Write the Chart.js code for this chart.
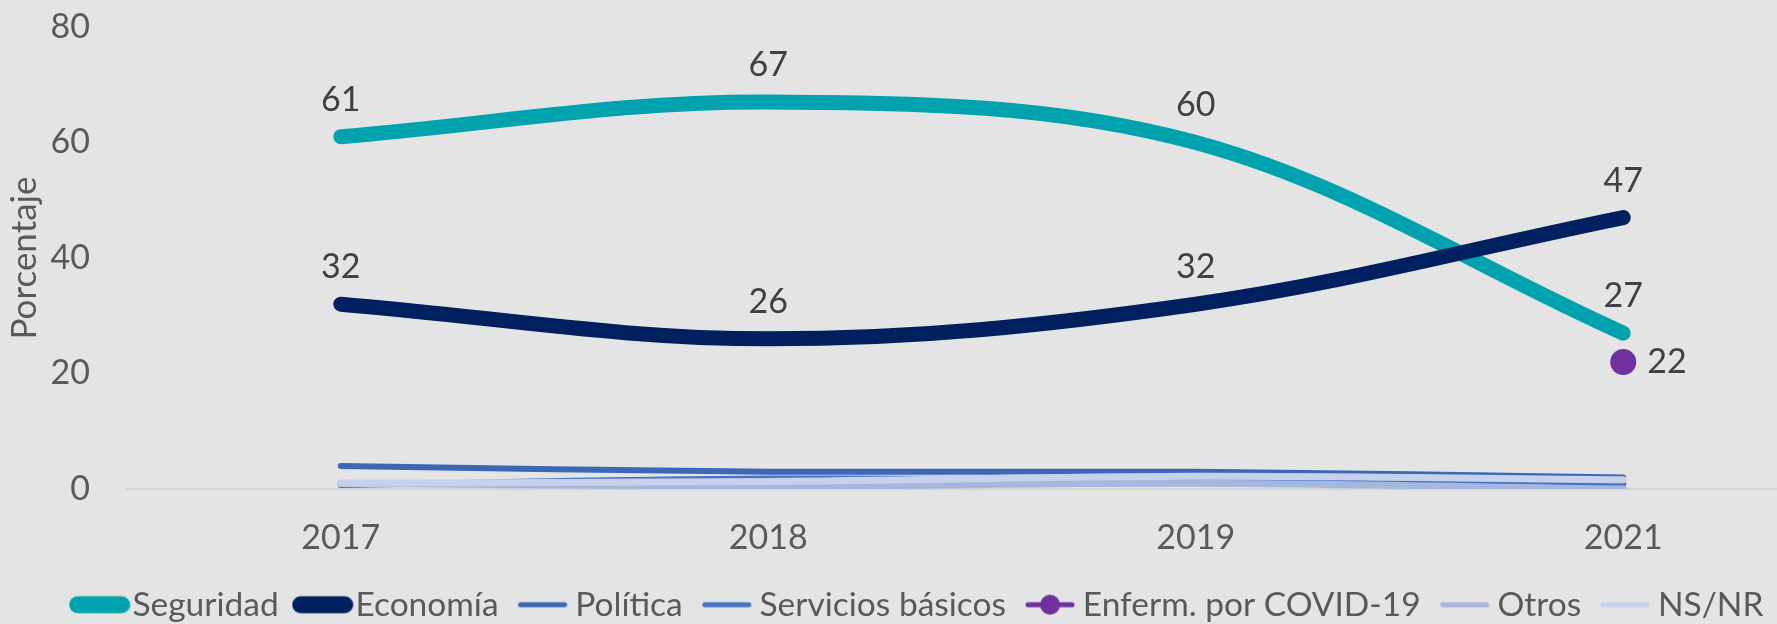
<!DOCTYPE html>
<html>
<head>
<meta charset="utf-8">
<script src="https://cdn.jsdelivr.net/npm/chart.js@4"></script>
<style>
  html, body { margin: 0; padding: 0; background: #E4E4E4; overflow: hidden; }
  #wrap { width: 1850px; height: 624px; }
</style>
</head>
<body>
<div id="wrap"><canvas id="c" width="1850" height="624"></canvas></div>
<script>
const categories = ['2017', '2018', '2019', '2021'];
const seriesNames = ['Seguridad', 'Economía', 'Política', 'Servicios básicos', 'Enferm. por COVID-19', 'Otros', 'NS/NR'];
const seguridad = [61, 67, 60, 27];
const economia = [32, 26, 32, 47];
const politica = [4, 3, 3, 2];
const servicios = [0.7, 1.8, 1.5, 0.9];
const covid = [null, null, null, 22];
const otros = [1, 0.5, 1, 0];
const nsnr = [1, 1.3, 2.2, 1.6];
const yMin = 0, yMax = 80, yStep = 20;
const yTitle = 'Porcentaje';

const colors = ['#00A3AD', '#002060', '#3B67B6', '#4472C4', '#7030A0', '#A7B6DE', '#C6D1EB'];
const widths = [15, 15, 6, 6, 6, 7, 7];
const labelled = [true, true, false, false, true, false, false];
const FONT = 'Lato';

function swatch(i) {
  const c = document.createElement('canvas');
  c.width = 62; c.height = 30;
  const g = c.getContext('2d');
  g.strokeStyle = colors[i];
  g.lineCap = 'round';
  g.lineWidth = i < 2 ? 17 : 5;
  g.beginPath(); g.moveTo(9, 15); g.lineTo(53, 15); g.stroke();
  if (i === 4) {
    g.fillStyle = colors[i];
    g.beginPath(); g.arc(31, 15, 10, 0, Math.PI * 2); g.fill();
  }
  return c;
}
const swatches = seriesNames.map((_, i) => swatch(i));

const allData = [seguridad, economia, politica, servicios, covid, otros, nsnr];
const datasets = allData.map((d, i) => ({
  label: seriesNames[i],
  data: d,
  borderColor: colors[i],
  backgroundColor: colors[i],
  borderWidth: widths[i],
  borderCapStyle: 'round',
  borderJoinStyle: 'round',
  tension: 0.35,
  pointRadius: i === 4 ? 13 : 0,
  pointHoverRadius: i === 4 ? 13 : 0,
  pointBackgroundColor: colors[i],
  pointBorderWidth: 0,
  order: allData.length - i,
  fill: false
}));

const labelPlugin = {
  id: 'valueLabels',
  afterDatasetsDraw(chart) {
    const ctx = chart.ctx;
    ctx.save();
    ctx.font = '34px ' + FONT;
    ctx.fillStyle = '#404040';
    ctx.textBaseline = 'middle';
    chart.data.datasets.forEach((ds, i) => {
      if (!labelled[i]) return;
      const meta = chart.getDatasetMeta(i);
      meta.data.forEach((pt, j) => {
        const v = ds.data[j];
        if (v === null || v === undefined) return;
        if (i === 4) {
          ctx.textAlign = 'left';
          ctx.fillText(String(v), pt.x + 24, pt.y);
        } else {
          ctx.textAlign = 'center';
          ctx.fillText(String(v), pt.x, pt.y - 37);
        }
      });
    });
    ctx.restore();
  }
};

const legendHeightPlugin = {
  id: 'legendHeight',
  beforeInit(chart) {
    const origFit = chart.legend.fit;
    chart.legend.fit = function () {
      origFit.call(this);
      this.height = 64;
    };
  }
};

new Chart(document.getElementById('c'), {
  type: 'line',
  data: { labels: categories, datasets },
  plugins: [labelPlugin, legendHeightPlugin],
  options: {
    responsive: false,
    animation: false,
    layout: { padding: { top: 27, left: 0, right: 3, bottom: 0 } },
    plugins: {
      tooltip: { enabled: false },
      legend: {
        position: 'bottom',
        labels: {
          usePointStyle: true,
          pointStyleWidth: 32,
          padding: 28,
          color: '#595959',
          font: { family: FONT, size: 33.5 },
          generateLabels(chart) {
            const items = Chart.defaults.plugins.legend.labels.generateLabels(chart);
            items.sort((a, b) => a.datasetIndex - b.datasetIndex);
            items.forEach(it => { it.pointStyle = swatches[it.datasetIndex]; it.fontColor = '#595959'; });
            return items;
          }
        }
      }
    },
    scales: {
      x: {
        type: 'category',
        offset: true,
        grid: { display: false, drawTicks: false },
        border: { display: true, color: '#D4D4D4', width: 2 },
        ticks: { color: '#595959', font: { family: FONT, size: 34 }, padding: 29 },
        afterFit(scale) { scale.height = 71; }
      },
      y: {
        min: yMin, max: yMax,
        grid: { display: false, drawTicks: true, tickLength: 37 },
        border: { display: false },
        ticks: { stepSize: yStep, color: '#595959', font: { family: FONT, size: 34 }, padding: 0 },
        title: { display: true, text: yTitle, color: '#595959', font: { family: FONT, size: 35 }, padding: { top: 4, bottom: 0 } },
        afterFit(scale) { scale.width = 127; }
      }
    }
  }
});
</script>
</body>
</html>
